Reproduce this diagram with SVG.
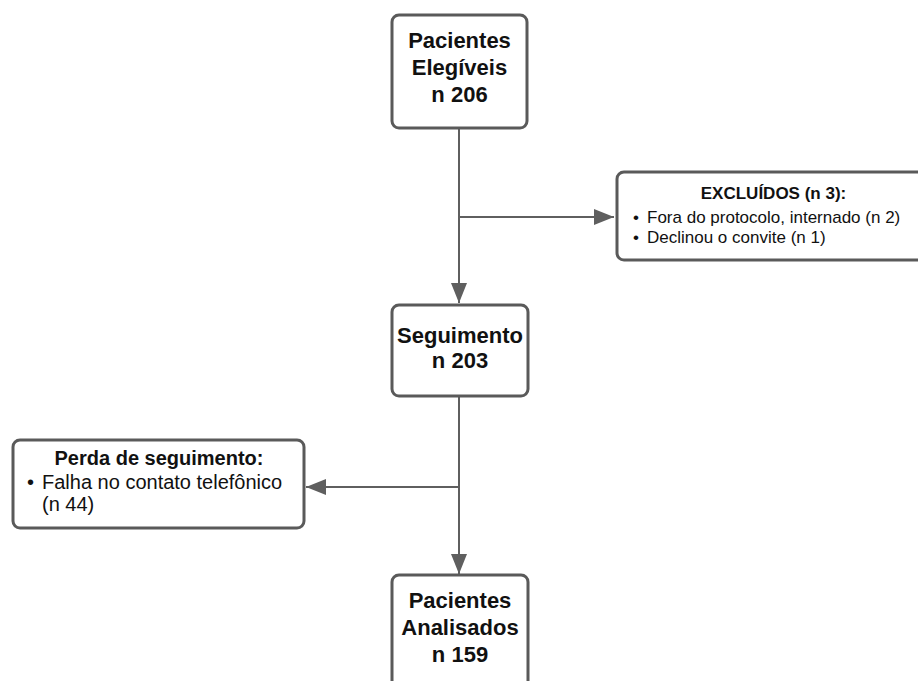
<svg xmlns="http://www.w3.org/2000/svg" width="918" height="681" viewBox="0 0 918 681">
<defs>
<style>
.box{fill:#fff;stroke:#5a5a5a;stroke-width:3}
.t{font-family:"Liberation Sans",Arial,sans-serif;fill:#111}
.b{font-weight:bold}
.conn{stroke:#5f5f5f;stroke-width:2;fill:none}
</style>
<marker id="ah" markerUnits="userSpaceOnUse" markerWidth="22" markerHeight="16" refX="20" refY="8" orient="auto">
<path d="M0,0 L20,8 L0,16 Z" fill="#5f5f5f"/>
</marker>
</defs>
<rect width="918" height="681" fill="#fff"/>
<g id="connectors">
<path class="conn" d="M459,128 L459,303" marker-end="url(#ah)"/>
<path class="conn" d="M459,217 L614,217" marker-end="url(#ah)"/>
<path class="conn" d="M459,396 L459,574" marker-end="url(#ah)"/>
<path class="conn" d="M459,487 L306,487" marker-end="url(#ah)"/>
</g>
<g id="elegiveis">
<rect class="box" x="392" y="15" width="135" height="113" rx="7"/>
<text class="t b" font-size="22" text-anchor="middle" x="459.5" y="48">Pacientes</text>
<text class="t b" font-size="22" text-anchor="middle" x="459.5" y="75">Elegíveis</text>
<text class="t b" font-size="22" text-anchor="middle" x="459.5" y="102">n 206</text>
</g>
<g id="excluidos">
<rect class="box" x="617" y="172" width="320" height="88" rx="7"/>
<text class="t b" font-size="17" text-anchor="middle" x="773.5" y="199">EXCLUÍDOS (n 3):</text>
<text class="t" font-size="17" x="633" y="223">•</text>
<text class="t" font-size="17" x="647" y="223">Fora do protocolo, internado (n 2)</text>
<text class="t" font-size="17" x="633" y="243">•</text>
<text class="t" font-size="17" x="647" y="243">Declinou o convite (n 1)</text>
</g>
<g id="seguimento">
<rect class="box" x="392" y="305" width="136" height="91" rx="7"/>
<text class="t b" font-size="22" text-anchor="middle" x="460" y="343">Seguimento</text>
<text class="t b" font-size="22" text-anchor="middle" x="460" y="368">n 203</text>
</g>
<g id="perda">
<rect class="box" x="13" y="440" width="291" height="88" rx="7"/>
<text class="t b" font-size="20" text-anchor="middle" x="159" y="465">Perda de seguimento:</text>
<text class="t" font-size="20" x="27" y="489">•</text>
<text class="t" font-size="20" x="42" y="489">Falha no contato telefônico</text>
<text class="t" font-size="20" x="42" y="511">(n 44)</text>
</g>
<g id="analisados">
<rect class="box" x="392" y="575" width="136" height="130" rx="7"/>
<text class="t b" font-size="22" text-anchor="middle" x="460" y="608">Pacientes</text>
<text class="t b" font-size="22" text-anchor="middle" x="460" y="635">Analisados</text>
<text class="t b" font-size="22" text-anchor="middle" x="460" y="662">n 159</text>
</g>
</svg>
